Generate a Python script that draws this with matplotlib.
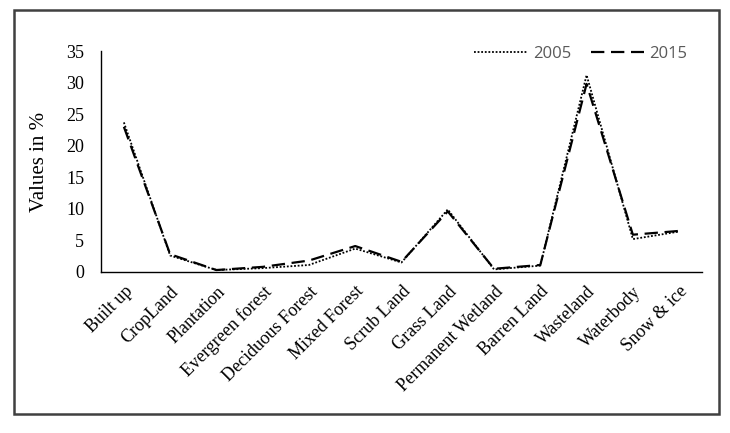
import matplotlib.pyplot as plt
from matplotlib.patches import Rectangle

# land cover classes and shares (%)
categories = ['Built up', 'CropLand', 'Plantation', 'Evergreen forest',
              'Deciduous Forest', 'Mixed Forest', 'Scrub Land', 'Grass Land',
              'Permanent Wetland', 'Barren Land', 'Wasteland', 'Waterbody',
              'Snow & ice']
values_2005 = [23.7, 2.6, 0.3, 0.6, 1.1, 3.7, 1.5, 9.9, 0.4, 1.0, 31.2, 5.2, 6.4]
values_2015 = [23.0, 2.8, 0.3, 0.8, 1.8, 4.1, 1.6, 9.6, 0.5, 1.1, 29.8, 5.9, 6.5]

fig = plt.figure(figsize=(7.3, 4.33), dpi=100)
ax = fig.add_axes([0.138, 0.372, 0.824, 0.51])

x = range(len(categories))
ax.plot(x, values_2005, color='black', linestyle=(0, (1, 1)), linewidth=1.3, label='2005')
ax.plot(x, values_2015, color='black', linestyle=(0, (6, 3)), linewidth=1.6, label='2015')

ax.set_xlim(-0.5, len(categories) - 0.5)
ax.set_ylim(0, 35)
ax.set_yticks(range(0, 36, 5))
ax.set_xticks(list(x))
ax.set_xticklabels(categories, rotation=45, ha='right', rotation_mode='anchor',
                   fontfamily='Liberation Serif', fontsize=13)
for lab in ax.get_yticklabels():
    lab.set_fontfamily('Liberation Serif')
    lab.set_fontsize(13)
ax.tick_params(axis='y', length=0, pad=12)
ax.tick_params(axis='x', length=0, pad=8)
ax.set_ylabel('Values in %', fontfamily='Liberation Serif', fontsize=15, labelpad=12)

for s in ['top', 'right']:
    ax.spines[s].set_visible(False)
ax.spines['left'].set_linewidth(1.0)
ax.spines['bottom'].set_linewidth(1.0)

leg = ax.legend(loc='upper right', ncol=2, frameon=False, handlelength=3.2,
                columnspacing=1.2, handletextpad=0.3,
                bbox_to_anchor=(1.0, 1.09),
                prop={'family': 'Open Sans', 'size': 12})
for t in leg.get_texts():
    t.set_color('#595959')

# outer frame around the chart
fig.patches.append(Rectangle((0.019, 0.045), 0.966, 0.932, transform=fig.transFigure,
                             fill=False, edgecolor='#404040', linewidth=1.8))

fig.savefig('out.png', dpi=100)
